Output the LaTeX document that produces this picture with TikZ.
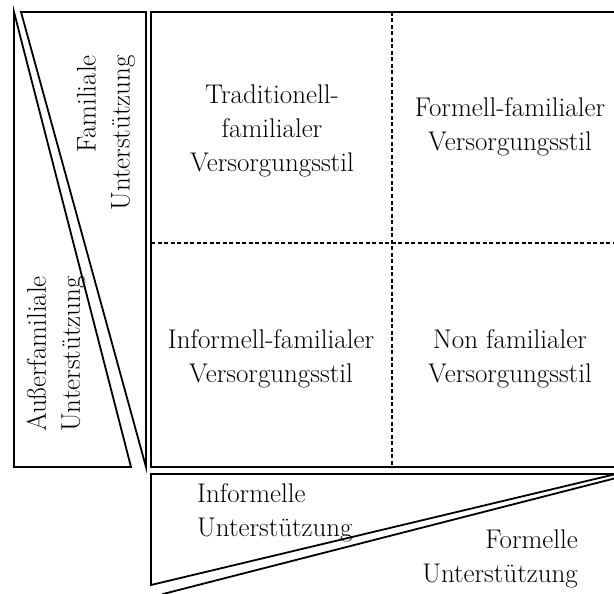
\documentclass[tikz,border=0pt]{standalone}
\begin{document}
\begin{tikzpicture}[x=1pt,y=-1pt,
  frame/.style={draw=black,line width=1.8pt,line join=miter},
  grid/.style={draw=black,line width=1.2pt,dash pattern=on 4pt off 2.5pt},
  label/.style={font=\fontsize{27}{34}\selectfont,inner sep=0pt},
  cell/.style={label,align=center}]
\useasboundingbox (0,0) rectangle (614,594);
\clip (0,0) rectangle (614,594);

% left column: two wedges split by a double diagonal
\draw[frame] (14,12) -- (131,467) -- (14,467) -- cycle;
\draw[frame] (21,12) -- (146,12) -- (146,467) -- cycle;

% central field with its quadrants
\draw[frame] (151,12) rectangle (640,467);
\draw[grid] (392,12) -- (392,467);
\draw[grid] (151,243) -- (640,243);

% bottom row: two wedges split by a double diagonal
\draw[frame] (151,474) -- (616,474) -- (151,585) -- cycle;
\draw[frame] (163,594) -- (620,477) -- (660,477) -- (660,640) -- (163,640) -- cycle;

% quadrant labels
\node[cell] (tf) at (272,131) {Traditionell-\\familialer\\Versorgungsstil};
\node[cell] (ff) at (510,127) {Formell-familialer\\Versorgungsstil};
\node[cell] (if) at (271,359) {Informell-familialer\\Versorgungsstil};
\node[cell] (nf) at (510,359) {Non familialer\\Versorgungsstil};

% axis labels
\node[label,align=right,rotate=90,anchor=east] (fam) at (106,55) {Familiale\\Unterstützung};
\node[label,align=center,rotate=90] (afam) at (56,354) {Außerfamiliale\\Unterstützung};
\node[label,align=left,anchor=west] (inf) at (197,513) {Informelle\\Unterstützung};
\node[label,align=right,anchor=east] (form) at (578,559) {Formelle\\Unterstützung};
\end{tikzpicture}
\end{document}
